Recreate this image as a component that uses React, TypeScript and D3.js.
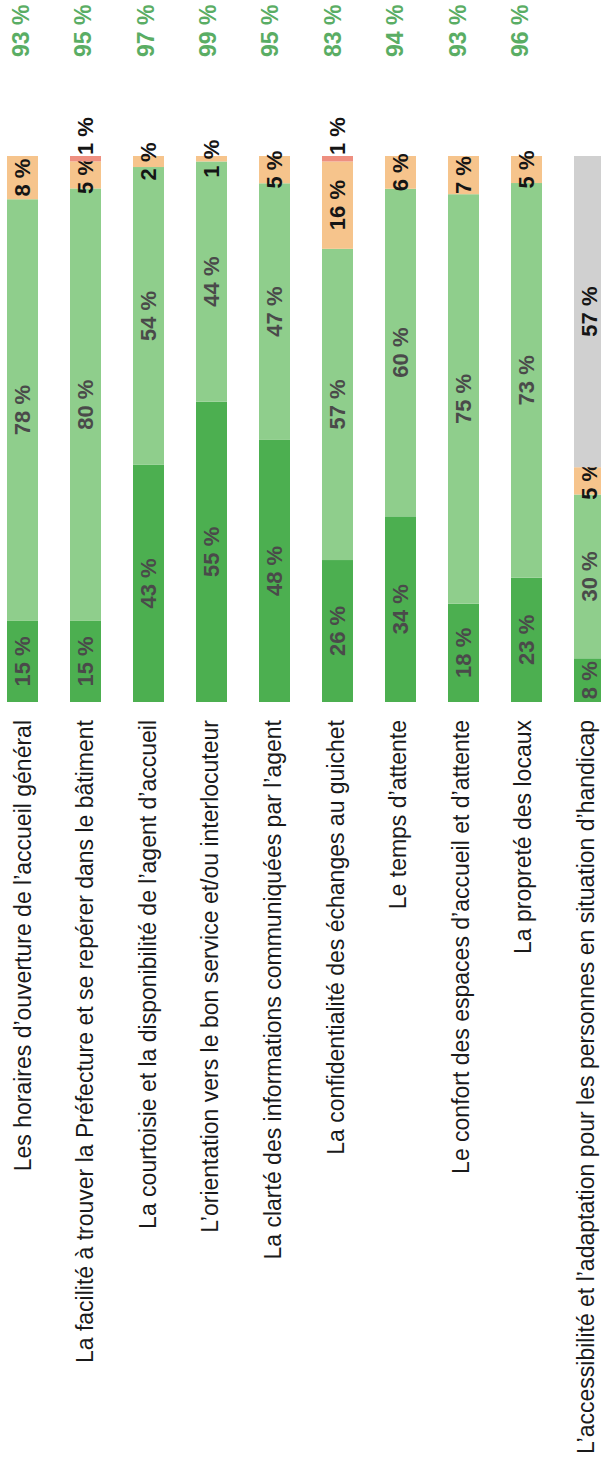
import React from "react";
import * as d3 from "d3";

const categories = [
  "Les horaires d’ouverture de l’accueil général",
  "La facilité à trouver la Préfecture et se repérer dans le bâtiment",
  "La courtoisie et la disponibilité de l’agent d’accueil",
  "L’orientation vers le bon service et/ou interlocuteur",
  "La clarté des informations communiquées par l’agent",
  "La confidentialité des échanges au guichet",
  "Le temps d’attente",
  "Le confort des espaces d’accueil et d’attente",
  "La propreté des locaux",
  "L’accessibilité et l’adaptation pour les personnes en situation d’handicap",
];

const tresSatisfait = [15, 15, 43, 55, 48, 26, 34, 18, 23, 8];
const satisfait = [78, 80, 54, 44, 47, 57, 60, 75, 73, 30];
const peuSatisfait = [8, 5, 2, 1, 5, 16, 6, 7, 5, 5];
const pasSatisfait = [0, 1, 0, 0, 0, 1, 0, 0, 0, 0];
const sansAvis = [0, 0, 0, 0, 0, 0, 0, 0, 0, 57];
const totals = ["93 %", "95 %", "97 %", "99 %", "95 %", "83 %", "94 %", "93 %", "96 %", ""];

const keys = ["tresSatisfait", "satisfait", "peuSatisfait", "pasSatisfait", "sansAvis"];
const colors: Record<string, string> = {
  tresSatisfait: "#4caf50",
  satisfait: "#8fce8c",
  peuSatisfait: "#f6c48c",
  pasSatisfait: "#ee8f80",
  sansAvis: "#d0d0d0",
};

const W = 601;
const H = 1480;
const barTop = 156;
const barBottom = 702;
const FONT = "'Liberation Sans', Arial, sans-serif";

export default function App() {
  const rows = categories.map((c, i) => ({
    cat: c,
    tresSatisfait: tresSatisfait[i],
    satisfait: satisfait[i],
    peuSatisfait: peuSatisfait[i],
    pasSatisfait: pasSatisfait[i],
    sansAvis: sansAvis[i],
  }));
  const stack = d3.stack<any>().keys(keys).offset(d3.stackOffsetExpand);
  const series = stack(rows);

  const x = d3
    .scaleBand<string>()
    .domain(categories)
    .range([7, 605])
    .paddingInner(0.508)
    .paddingOuter(0);
  const y = d3.scaleLinear().domain([0, 1]).range([barBottom, barTop]);
  const bw = x.bandwidth();

  return (
    <svg
      width={W}
      height={H}
      style={{ position: "absolute", left: 0, top: 0, background: "#fff" }}
      fontFamily={FONT}
    >
      <rect x={0} y={0} width={W} height={H} fill="#fff" />
      {series.map((s) => (
        <g key={s.key}>
          {s.map((d, i) => {
            const cx = (x(categories[i]) as number) + bw / 2;
            const y0 = y(d[0]);
            const y1 = y(d[1]);
            const v = (rows[i] as any)[s.key] as number;
            if (v <= 0) return null;
            const isGreen = s.key === "tresSatisfait" || s.key === "satisfait";
            const isRed = s.key === "pasSatisfait";
            const ly = isRed ? y1 - 1 : (y0 + y1) / 2;
            return (
              <g key={i}>
                <rect
                  x={x(categories[i])}
                  y={y1}
                  width={bw}
                  height={y0 - y1}
                  fill={colors[s.key]}
                />
                <text
                  transform={`translate(${cx},${ly}) rotate(-90)`}
                  textAnchor={isRed ? "start" : "middle"}
                  dy="0.36em"
                  fontSize={22}
                  fontWeight="bold"
                  fill={isGreen ? "#4a4a4a" : "#151515"}
                >
                  {v} %
                </text>
              </g>
            );
          })}
        </g>
      ))}
      {categories.map((c, i) => {
        const cx = (x(c) as number) + bw / 2;
        return (
          <g key={c}>
            <text
              transform={`translate(${cx - i * 0.45},720) rotate(-90)`}
              textAnchor="end"
              dy="0.36em"
              fontSize={23}
              fill="#1a1a1a"
            >
              {c}
            </text>
            {totals[i] && (
              <text
                transform={`translate(${cx - 2 - i * 0.6},57) rotate(-90)`}
                textAnchor="start"
                dy="0.36em"
                fontSize={23}
                fontWeight="bold"
                fill="#5aad64"
              >
                {totals[i]}
              </text>
            )}
          </g>
        );
      })}
    </svg>
  );
}
